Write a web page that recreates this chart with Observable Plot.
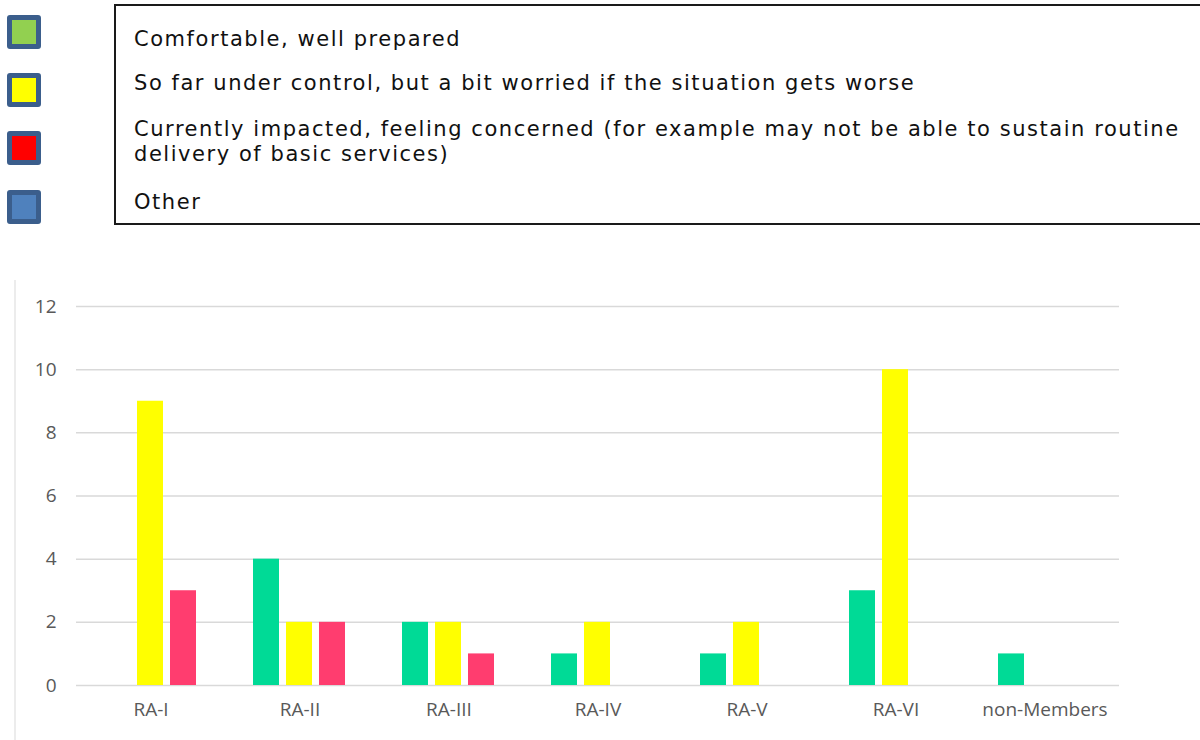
<!DOCTYPE html>
<html>
<head>
<meta charset="utf-8">
<script src="https://cdn.jsdelivr.net/npm/d3@7"></script>
<script src="https://cdn.jsdelivr.net/npm/@observablehq/plot@0.6"></script>
<style>
  html, body { margin: 0; padding: 0; background: #fff; width: 1200px; height: 740px; overflow: hidden; position: relative; }
  #legend-box { position: absolute; left: 114px; top: 4px; width: 1100px; height: 221px; border: 2px solid #1a1a1a; box-sizing: border-box; }
  .leg-text { position: absolute; left: 134px; font-family: "DejaVu Sans", Verdana, sans-serif; font-size: 21px; letter-spacing: 1.55px; color: #111; line-height: 25px; white-space: nowrap; }
  .sw { position: absolute; left: 7px; width: 34px; height: 34px; box-sizing: border-box; border: 5px solid #3b5e8c; border-radius: 3px; }
  #frame { position: absolute; left: 14px; top: 280px; width: 2px; height: 460px; background: #ececec; }
  #chart { position: absolute; left: 0; top: 280px; }
</style>
</head>
<body>
<div id="legend-box"></div>
<div id="legend"></div>
<div id="frame"></div>
<div id="chart"></div>
<script>
// Legend (survey answer options)
const legendLabels = [
  "Comfortable, well prepared",
  "So far under control, but a bit worried if the situation gets worse",
  "Currently impacted, feeling concerned (for example may not be able to sustain routine<br>delivery of basic services)",
  "Other"
];
const legendColors = ["#92d050", "#ffff00", "#ff0000", "#4f81bd"];

// Chart data
const regions = ["RA-I", "RA-II", "RA-III", "RA-IV", "RA-V", "RA-VI", "non-Members"];
const seriesNames = ["Comfortable", "Under control", "Impacted"];
const seriesColors = ["#00da96", "#ffff00", "#ff3d6f"];
const comfortable = [0, 4, 2, 1, 1, 3, 1];
const underControl = [9, 2, 2, 2, 2, 10, 0];
const impacted = [3, 2, 1, 0, 0, 0, 0];
const yTicks = [0, 2, 4, 6, 8, 10, 12];

// Legend layout
const swatchTops = [15, 73, 131, 190];
const textTops = [27, 71, 117, 190];
const legendDiv = document.getElementById("legend");
legendLabels.forEach((t, i) => {
  const s = document.createElement("div");
  s.className = "sw";
  s.style.top = swatchTops[i] + "px";
  s.style.background = legendColors[i];
  legendDiv.appendChild(s);
  const d = document.createElement("div");
  d.className = "leg-text";
  d.style.top = textTops[i] + "px";
  d.innerHTML = t;
  legendDiv.appendChild(d);
});

const seriesValues = [comfortable, underControl, impacted];
const data = [];
regions.forEach((r, i) => {
  seriesNames.forEach((s, j) => {
    data.push({region: r, series: s, value: seriesValues[j][i]});
  });
});

const chart = Plot.plot({
  width: 1200,
  height: 460,
  marginTop: 26,
  marginBottom: 55,
  marginLeft: 75,
  marginRight: 80,
  style: {fontFamily: "'Open Sans', sans-serif", fontSize: "19px", color: "#595959", background: "transparent"},
  fx: {domain: regions, padding: 0, label: null, tickSize: 0, tickPadding: 17},
  x: {domain: seriesNames, paddingInner: 0.21, paddingOuter: 0.86, axis: null},
  y: {domain: [0, 12], ticks: yTicks, label: null, tickSize: 0, tickPadding: 20, grid: false},
  color: {domain: seriesNames, range: seriesColors},
  marks: [
    Plot.ruleY(yTicks, {stroke: "#d9d9d9", strokeWidth: 1.5}),
    Plot.barY(data.filter(d => d.value > 0), {fx: "region", x: "series", y: "value", fill: "series"})
  ]
});
document.getElementById("chart").appendChild(chart);
</script>
</body>
</html>
